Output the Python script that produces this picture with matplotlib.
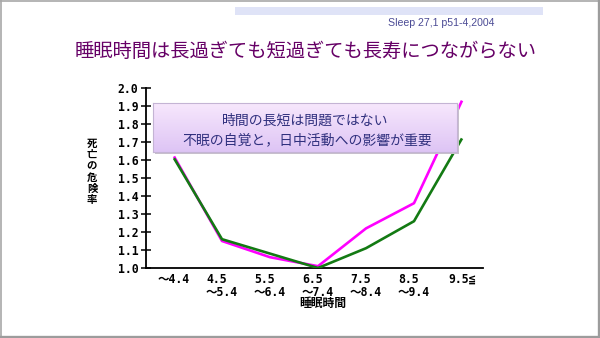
import numpy as np
import matplotlib
matplotlib.use("Agg")
import matplotlib.pyplot as plt
from matplotlib.lines import Line2D
from matplotlib.patches import Rectangle

plt.rcParams['font.family'] = ['Noto Sans CJK JP', 'DejaVu Sans']

# Sleep duration categories (hours) and relative mortality risk
categories = ["～4.4", "4.5\n～5.4", "5.5\n～6.4", "6.5\n～7.4",
              "7.5\n～8.4", "8.5\n～9.4", "9.5≦"]
risk_magenta = [1.62, 1.15, 1.06, 1.01, 1.22, 1.36, 1.93]
risk_green = [1.61, 1.16, 1.08, 1.00, 1.11, 1.26, 1.72]
yticks = [1.0, 1.1, 1.2, 1.3, 1.4, 1.5, 1.6, 1.7, 1.8, 1.9, 2.0]

title = "睡眠時間は長過ぎても短過ぎても長寿につながらない"
source = "Sleep 27,1 p51-4,2004"
note_lines = ["時間の長短は問題ではない", "不眠の自覚と，日中活動への影響が重要"]
ylabel = "死亡の危険率"
xlabel = "睡眠時間"

W, H = 600, 338
fig = plt.figure(figsize=(W / 100, H / 100), dpi=100)
fig.patch.set_facecolor("white")


def fx(px):
    return px / W


def fy(py):
    return 1 - py / H


# slide frame
fig.add_artist(Line2D([0, 1], [fy(0.5), fy(0.5)], color="#a8a8a8", lw=1.2))
fig.add_artist(Line2D([fx(0.5), fx(0.5)], [0, 1], color="#a8a8a8", lw=1.2))
fig.add_artist(Line2D([0, 1], [fy(336.5), fy(336.5)], color="#9c9c9c", lw=2.4))
fig.add_artist(Line2D([fx(598.5), fx(598.5)], [0, 1], color="#9c9c9c", lw=2.4))

# header strip and citation
fig.add_artist(Rectangle((fx(235), fy(14.5)), fx(543) - fx(235), fy(7) - fy(14.5),
                         transform=fig.transFigure, facecolor="#dfe3f7",
                         edgecolor="none"))
fig.text(fx(441), fy(23), source, ha="center", va="center", fontsize=7.6,
         color="#4b4b95", family=["Liberation Sans", "DejaVu Sans"])

fig.text(fx(306), fy(51), title, ha="center", va="center", fontsize=13.9,
         color="#660066")

# main axes
ax = fig.add_axes([fx(146), fy(268), fx(483) - fx(146), fy(88) - fy(268)])
x = np.arange(len(categories))
ax.plot(x, risk_green, color="#137a13", lw=1.9, solid_capstyle="butt", zorder=3)
ax.plot(x, risk_magenta, color="#ff00ff", lw=1.9, solid_capstyle="butt", zorder=2)

ax.set_xlim((146 - 174) / 48, (483 - 174) / 48)
ax.set_ylim(1.0, 2.0)
ax.set_yticks(yticks)
ax.set_yticklabels([f"{v:.1f}" for v in yticks],
                   family=["DejaVu Sans Mono", "Noto Sans CJK JP"],
                   fontweight="bold", fontsize=8.3)
ax.tick_params(axis="y", direction="inout", length=7, width=1.1, pad=2)
ax.set_xticks(x)
ax.set_xticklabels(categories, family=["DejaVu Sans Mono", "Noto Sans CJK JP"],
                   fontweight="bold", fontsize=8.3, multialignment="left",
                   va="top", linespacing=0.98)
ax.tick_params(axis="x", length=0, pad=3.5)
for s in ("top", "right"):
    ax.spines[s].set_visible(False)
for s in ("left", "bottom"):
    ax.spines[s].set_linewidth(1.3)
    ax.spines[s].set_color("black")
ax.set_facecolor("none")

fig.text(fx(323), fy(303.5), xlabel, ha="center", va="center", fontsize=8.5,
         fontweight="bold")
fig.text(fx(92), fy(172), "\n".join(ylabel), ha="center", va="center",
         fontsize=7.5, fontweight="bold", linespacing=1.15)

# callout box with vertical gradient
bx0, bx1, by0, by1 = 153, 457, 103, 152
fig.add_artist(Rectangle((fx(bx0 + 2), fy(by1 + 2)), fx(bx1) - fx(bx0),
                         fy(by0) - fy(by1), transform=fig.transFigure,
                         facecolor="#c8c0cc", edgecolor="none", zorder=5))
box = fig.add_axes([fx(bx0), fy(by1), fx(bx1) - fx(bx0), fy(by0) - fy(by1)],
                   zorder=6)
top = np.array([0.97, 0.91, 0.99])
bot = np.array([0.87, 0.77, 0.96])
t = np.linspace(0, 1, 64)[:, None, None]
grad = top * (1 - t) + bot * t
box.imshow(grad, aspect="auto", extent=[0, 1, 0, 1], origin="upper")
box.set_xticks([])
box.set_yticks([])
for s in box.spines.values():
    s.set_color("#c4b4d4")
    s.set_linewidth(0.8)
box.text(0.5, 0.64, note_lines[0], ha="center", va="center", fontsize=10,
         color="#30307e", transform=box.transAxes)
box.text(0.507, 0.25, note_lines[1], ha="center", va="center", fontsize=10,
         color="#30307e", transform=box.transAxes)

fig.savefig("out.png", dpi=100, facecolor="white")
